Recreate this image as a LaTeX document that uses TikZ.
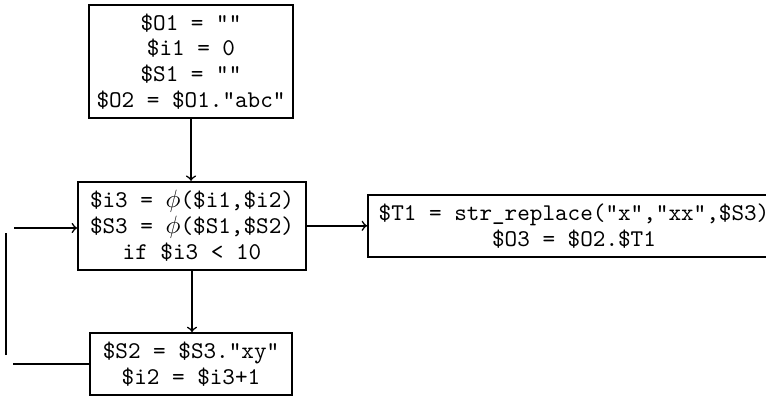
\documentclass[tikz,border=0pt]{standalone}
\usepackage{tikz}
\usetikzlibrary{arrows}

\tikzstyle{block} = [rectangle, draw=black, line width=0.8pt, align=center, font=\fontsize{10.5}{11.25}\selectfont\ttfamily, inner sep=1pt]
\tikzstyle{arrow} = [line width=0.7pt, ->, >=to]
\tikzstyle{line} = [line width=0.7pt]

\begin{document}
\begin{tikzpicture}[x=0.4375pt, y=-0.4375pt]
\useasboundingbox (0,0) rectangle (766,399);

\node (init) [block, minimum width=89.25pt, minimum height=49.4pt] at (191,61.5) {\$O1 = ""\\ \$i1 = 0\\ \$S1 = ""\\ \$O2 = \$O1."abc"};
\node (cond) [block, minimum width=99.75pt, minimum height=38.5pt] at (192,225.8) {\$i3 = $\phi$(\$i1,\$i2)\\ \$S3 = $\phi$(\$S1,\$S2)\\ if \$i3 < 10};
\node (exit) [block, minimum width=180.25pt, minimum height=27.1pt] at (574,226) {\$T1 = str\_replace("x","xx",\$S3)\\ \$O3 = \$O2.\$T1};
\node (body) [block, minimum width=88.4pt, minimum height=27.1pt] at (191,364) {\$S2 = \$S3."xy"\\ \$i2 = \$i3+1};

\coordinate (back1) at (13,364);
\coordinate (back2) at (6,355);
\coordinate (back3) at (6,233);
\coordinate (back4) at (14,228);

\draw [arrow] (init.south) -- (init.south |- cond.north);
\draw [arrow] (cond.east) -- (cond.east -| exit.west);
\draw [arrow] (cond.south) -- (cond.south |- body.north);
\draw [line] (body.west) -- (back1);
\draw [line] (back2) -- (back3);
\draw [arrow] (back4) -- (back4 -| cond.west);

\end{tikzpicture}
\end{document}
